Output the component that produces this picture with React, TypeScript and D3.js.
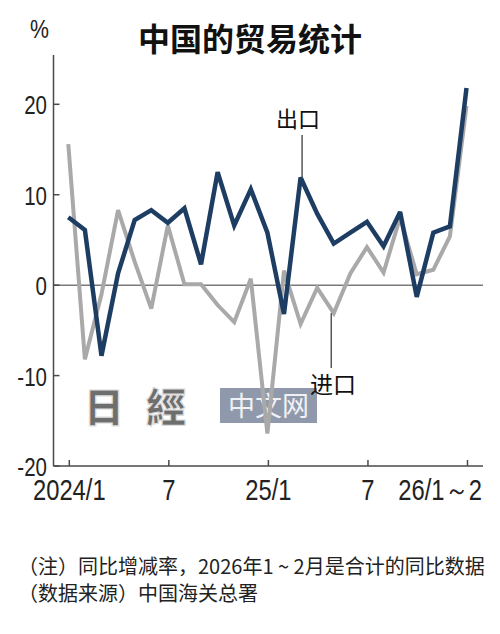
import React from "react";
import * as d3 from "d3";

const months = [
  "2024/1","2024/2","2024/3","2024/4","2024/5","2024/6","2024/7","2024/8","2024/9","2024/10","2024/11","2024/12",
  "2025/1","2025/2","2025/3","2025/4","2025/5","2025/6","2025/7","2025/8","2025/9","2025/10","2025/11","2025/12","2026/1~2",
];
const exportsYoY = [7.5, 6.1, -7.8, 1.3, 7.2, 8.3, 6.9, 8.5, 2.3, 12.5, 6.6, 10.6, 5.8, -3.2, 11.9, 7.9, 4.6, 5.8, 7.0, 4.3, 8.1, -1.3, 5.8, 6.5, 21.8];
const importsYoY = [15.6, -8.2, -1.0, 8.3, 2.6, -2.6, 6.6, 0.1, 0.1, -2.2, -4.1, 0.7, -16.4, 1.6, -4.3, -0.3, -3.1, 1.3, 4.2, 1.4, 7.5, 1.2, 1.7, 5.4, 19.8];
const yTicks = [-20, -10, 0, 10, 20];
const xTickIdx = [0, 6, 12, 18, 24];
const xTickLabels = ["2024/1", "7", "25/1", "7", "26/1～2"];

const NUM_FONT = "'Liberation Sans', Arial, sans-serif";
const CJK_FONT = "'Noto Sans CJK SC', 'Noto Sans', sans-serif";

export default function App() {
  const W = 500, H = 634;
  const x = d3.scaleLinear().domain([0, 24]).range([68.3, 466.5]);
  const y = d3.scaleLinear().domain([-20, 20]).range([466, 104.3]);
  const line = d3.line<number>().x((_, i) => x(i)).y((v) => y(v));
  const axisX = 53.5;
  const axisColor = "#4a4a4a";
  const NARROW = 0.82;

  return (
    <svg width={W} height={H} style={{ position: "absolute", left: 0, top: 0, background: "#fff" }}>
      <rect x={0} y={0} width={W} height={H} fill="#fff" />
      {/* title */}
      <text x={250} y={51} textAnchor="middle" fontFamily={CJK_FONT} fontWeight={700} fontSize={32} fill="#111">中国的贸易统计</text>
      <text transform={`translate(30,38) scale(${NARROW},1)`} fontFamily={NUM_FONT} fontSize={26} fill="#222">%</text>

      {/* watermark */}
      <g opacity={0.9}>
        <text x={84} y={422} fontFamily={CJK_FONT} fontWeight={900} fontSize={40} fill="#5f5f5f" stroke="#d8d8d8" strokeWidth={1.2} letterSpacing={22}>日經</text>
        <rect x={220} y={388} width={97} height={35} fill="#858ea2" />
        <text x={268.5} y={416} textAnchor="middle" fontFamily={CJK_FONT} fontSize={27} fill="#eef0f4">中文网</text>
      </g>

      {/* zero line */}
      <line x1={axisX} x2={483} y1={y(0)} y2={y(0)} stroke="#7a7a7a" strokeWidth={1.5} />

      {/* y axis */}
      <line x1={axisX} x2={axisX} y1={55} y2={466} stroke={axisColor} strokeWidth={1.5} />
      {yTicks.map((t) => (
        <g key={t}>
          <line x1={axisX} x2={axisX + 6} y1={y(t)} y2={y(t)} stroke={axisColor} strokeWidth={1.5} />
          <text transform={`translate(47,${y(t) + 10}) scale(${NARROW},1)`} textAnchor="end" fontFamily={NUM_FONT} fontSize={25} fill="#222">{t}</text>
        </g>
      ))}

      {/* x axis */}
      <line x1={axisX} x2={483} y1={466} y2={466} stroke={axisColor} strokeWidth={1.5} />
      {xTickIdx.map((idx, k) => {
        const last = k === xTickIdx.length - 1;
        const tx = last ? 482 : x(idx) + 1;
        return (
          <g key={idx}>
            <line x1={x(idx) + 1} x2={x(idx) + 1} y1={466} y2={460} stroke={axisColor} strokeWidth={1.5} />
            <text transform={`translate(${tx},500) scale(${NARROW},1)`} textAnchor={last ? "end" : "middle"} fontFamily={NUM_FONT} fontSize={29} fill="#222">{xTickLabels[k]}</text>
          </g>
        );
      })}

      {/* series */}
      <path d={line(importsYoY) || ""} fill="none" stroke="#a9a9a9" strokeWidth={4} strokeLinejoin="miter" strokeMiterlimit={3} />
      <path d={line(exportsYoY) || ""} fill="none" stroke="#1e3d63" strokeWidth={4.5} strokeLinejoin="miter" strokeMiterlimit={3} />

      {/* annotations */}
      <line x1={x(14) + 1.5} x2={x(14) + 1.5} y1={135} y2={y(exportsYoY[14])} stroke="#555" strokeWidth={1.5} />
      <text x={276} y={127} fontFamily={CJK_FONT} fontSize={22} fill="#111">出口</text>
      <line x1={x(16) - 2.5} x2={x(16) - 2.5} y1={y(importsYoY[16])} y2={368} stroke="#555" strokeWidth={1.5} />
      <text x={310} y={393} fontFamily={CJK_FONT} fontSize={23} fill="#111">进口</text>

      {/* footnotes */}
      <text x={18} y={574} fontFamily={CJK_FONT} fontSize={20} fill="#222">（注）同比增减率，2026年1 ~ 2月是合计的同比数据</text>
      <text x={18} y={601} fontFamily={CJK_FONT} fontSize={20} fill="#222">（数据来源）中国海关总署</text>
    </svg>
  );
}
